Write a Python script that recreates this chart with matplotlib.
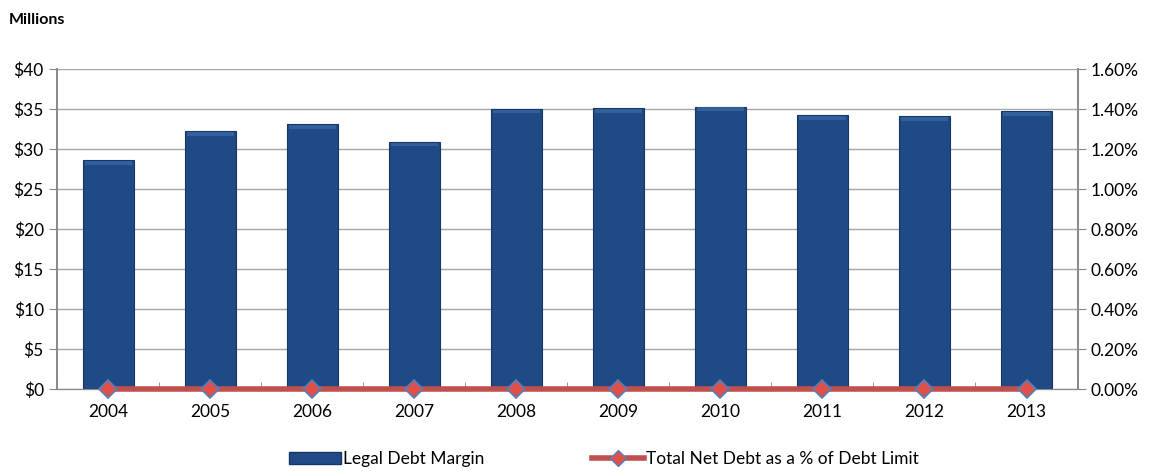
import matplotlib
matplotlib.use("Agg")
import matplotlib.pyplot as plt
from matplotlib.ticker import FuncFormatter, MultipleLocator, FixedLocator
from matplotlib.lines import Line2D
from matplotlib.patches import Patch

years = ["2004", "2005", "2006", "2007", "2008", "2009", "2010", "2011", "2012", "2013"]
legal_debt_margin = [28.6, 32.2, 33.1, 30.9, 35.0, 35.1, 35.3, 34.2, 34.1, 34.7]
net_debt_pct = [0.0, 0.0, 0.0, 0.0, 0.0, 0.0, 0.0, 0.0, 0.0, 0.0]

plt.rcParams['font.family'] = ['Lato', 'DejaVu Sans']

fig = plt.figure(figsize=(11.5, 4.71), dpi=100)
ax = fig.add_axes([0.0496, 0.174, 0.8874, 0.6795])
ax2 = ax.twinx()

x = list(range(len(years)))
bar_color = "#1F4A86"
ax.bar(x, legal_debt_margin, width=0.5, color=bar_color, edgecolor="#163766",
       linewidth=0.8, zorder=3)
# soft bevel highlight along the bar tops
ax.bar(x, [0.45] * len(x), bottom=[v - 0.55 for v in legal_debt_margin], width=0.46,
       color="#3F6FAD", linewidth=0, zorder=4, alpha=0.6)

ax.set_ylim(0, 40)
ax.set_xlim(-0.5, len(years) - 0.5)
ax.yaxis.set_major_locator(MultipleLocator(5))
ax.yaxis.set_major_formatter(FuncFormatter(lambda v, p: f"${v:.0f}"))
ax.set_xticks(x)
ax.set_xticklabels(years)
ax.xaxis.set_minor_locator(FixedLocator([i + 0.5 for i in range(-1, len(years))]))
ax.tick_params(axis="x", which="major", length=0, pad=11, labelsize=12.5)
ax.tick_params(axis="x", which="minor", length=5, color="#888888", direction="in")
ax.tick_params(axis="y", length=6, color="#888888", labelsize=12.5, direction="out")
ax.grid(axis="y", color="#A6A6A6", linewidth=1.0, zorder=0)
ax.set_axisbelow(True)

ax2.plot(x, net_debt_pct, color="#C0504D", linewidth=4, zorder=5, clip_on=False,
         marker="D", markersize=9, markerfacecolor="#E0504A",
         markeredgecolor="#4F81BD", markeredgewidth=1.2)
ax2.set_ylim(0, 1.6)
ax2.yaxis.set_major_locator(MultipleLocator(0.2))
ax2.yaxis.set_major_formatter(FuncFormatter(lambda v, p: f"{v:.2f}%"))
ax2.tick_params(axis="y", length=6, color="#888888", labelsize=12.5, direction="out")

for a in (ax, ax2):
    a.spines["top"].set_visible(False)
    for side in ("left", "right", "bottom"):
        a.spines[side].set_color("#888888")
    a.spines["left"].set_linewidth(1.2)
    a.spines["right"].set_linewidth(1.2)

fig.text(0.008, 0.958, "Millions", fontsize=11.5, fontweight="bold", ha="left", va="center")

handles = [
    Patch(facecolor=bar_color, edgecolor="#163766", label="Legal Debt Margin"),
    Line2D([0], [0], color="#C0504D", linewidth=4, marker="D", markersize=8,
           markerfacecolor="#E0504A", markeredgecolor="#4F81BD", label="Total Net Debt as a % of Debt Limit"),
]
fig.legend(handles=handles, loc="center", bbox_to_anchor=(0.525, 0.025), ncol=2, frameon=False,
           fontsize=12.5, handlelength=3.0, handletextpad=0.1, columnspacing=6.2)

fig.savefig("out.png", dpi=100)
